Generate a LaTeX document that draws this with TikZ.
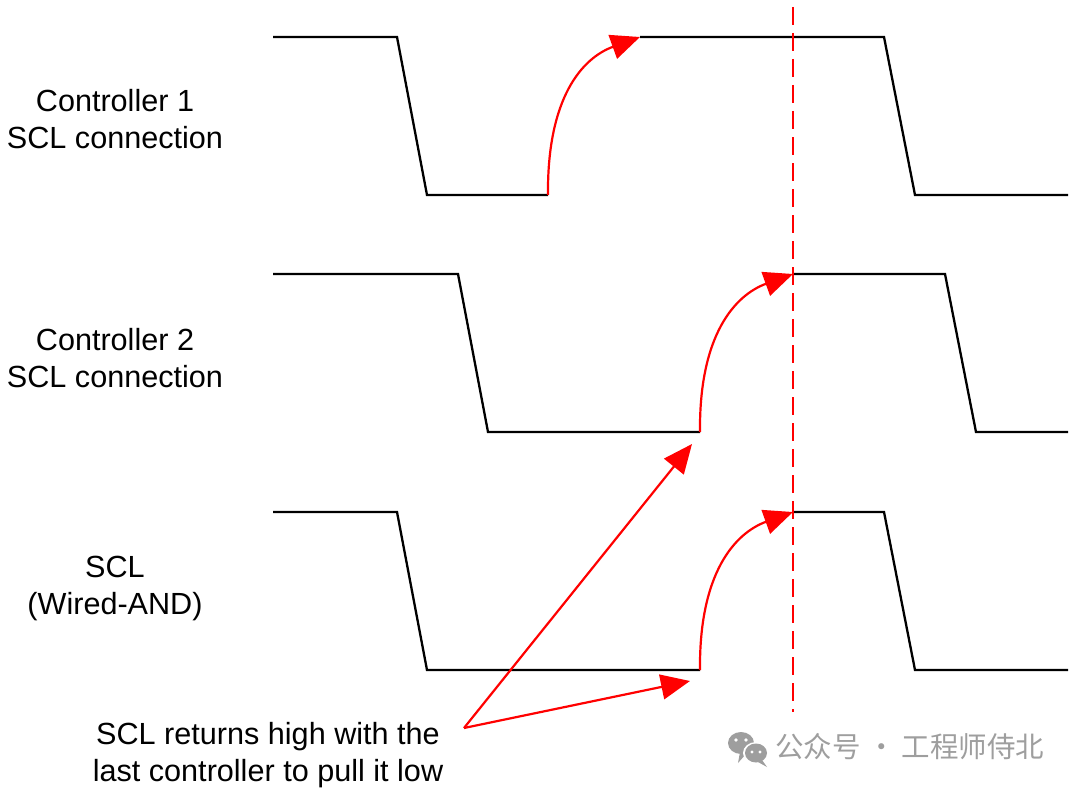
\documentclass[tikz,border=0pt]{standalone}
\usepackage{fontspec}
\setmainfont{Liberation Sans}
\newfontfamily\cjk{Noto Sans CJK SC}
\usetikzlibrary{arrows.meta}
\begin{document}
\begin{tikzpicture}[x=1pt,y=-1pt,
  wave/.style={line width=2.3pt,black,line join=miter},
  redarr/.style={line width=2.2pt,red,-{Triangle[length=29pt,width=25pt]}},
  lbl/.style={font=\fontsize{30.6}{37}\selectfont,align=center,inner sep=0pt},
  wm/.style={font=\cjk\fontsize{28.5}{30}\selectfont,text=black!38,inner sep=0pt,anchor=west}]
\useasboundingbox (0,0) rectangle (1080,792);
% labels
\node[lbl] (l1) at (115,119) {Controller 1\\SCL connection};
\node[lbl] (l2) at (115,358) {Controller 2\\SCL connection};
\node[lbl] (l3) at (115,588) {SCL\\(Wired-AND)};
\node[lbl] (l4) at (268,755) {SCL returns high with the\\last controller to pull it low};
% coordinates
\coordinate (c1s) at (548,195);
\coordinate (c1e) at (640,37);
\coordinate (c2s) at (700,432);
\coordinate (c2e) at (793,274);
\coordinate (c3s) at (700,670);
\coordinate (c3e) at (793,512);
\coordinate (src) at (464,728);
\coordinate (t1) at (692,444);
\coordinate (t2) at (690,681);
\coordinate (dtop) at (793,7);
\coordinate (dbot) at (793,712);
% waveform 1
\draw[wave] (273,37) -- (397,37) -- (427,195) -- (c1s);
\draw[wave] (c1e) -- (884,37) -- (915,195) -- (1068,195);
% waveform 2
\draw[wave] (273,274) -- (458,274) -- (488,432) -- (c2s);
\draw[wave] (c2e) -- (945,274) -- (976,432) -- (1068,432);
% waveform 3
\draw[wave] (273,512) -- (397,512) -- (427,670) -- (c3s);
\draw[wave] (c3e) -- (884,512) -- (915,670) -- (1068,670);
% dashed line
\draw[red,line width=2.2pt,dash pattern=on 18pt off 8pt] (dtop) -- (dbot);
% rising arrows
\draw[redarr] (c1s) .. controls (547,98) and (582,58) .. (c1e);
\draw[redarr] (c2s) .. controls (699,335) and (735,295) .. (c2e);
\draw[redarr] (c3s) .. controls (699,573) and (735,533) .. (c3e);
% annotation arrows
\draw[redarr,line join=miter] (src) -- (t1);
\draw[redarr] (src) -- (t2);
% watermark
\fill[black!38] (741,743) ellipse (13pt and 11pt);
\fill[black!38] (746,754) -- (738,763) -- (740,752) -- cycle;
\fill[white] (756,753) ellipse (13pt and 11pt);
\fill[black!38] (756,753) ellipse (11pt and 9.5pt);
\fill[black!38] (762,760) -- (767,767) -- (758,762) -- cycle;
\fill[white] (736,740) circle (1.8pt) (746,740) circle (1.8pt);
\fill[white] (752,752) circle (1.6pt) (760,752) circle (1.6pt);
\node[wm] (wmt) at (775,747) {公众号 · 工程师侍北};
\end{tikzpicture}
\end{document}
